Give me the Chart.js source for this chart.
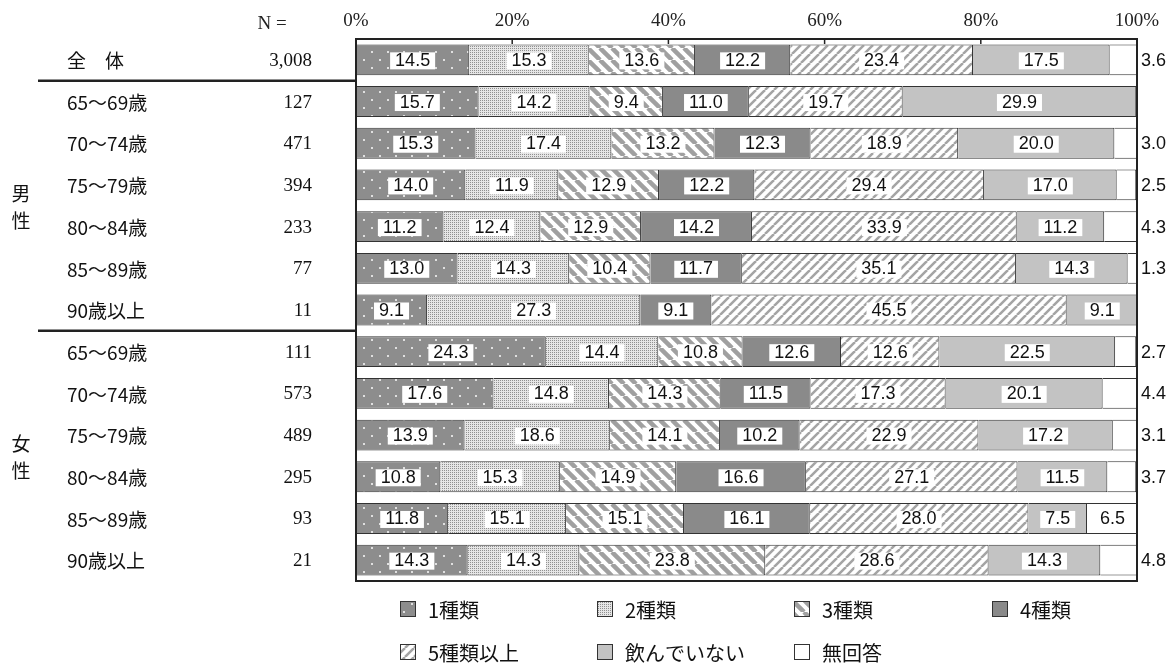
<!DOCTYPE html>
<html>
<head>
<meta charset="utf-8">
<script src="https://cdn.jsdelivr.net/npm/chart.js@4.4.1/dist/chart.umd.min.js"></script>
<style>
    body { margin: 0; background: #fff; }
    .chart_container { width: 1174px; height: 664px; }
</style>
</head>
<body>
<div class="chart_container"><canvas id="drug_chart"></canvas></div>
<script>
let categories = ['全　体', '65〜69歳', '70〜74歳', '75〜79歳', '80〜84歳', '85〜89歳', '90歳以上',
                  '65〜69歳', '70〜74歳', '75〜79歳', '80〜84歳', '85〜89歳', '90歳以上'];
let n_values = ['3,008', '127', '471', '394', '233', '77', '11', '111', '573', '489', '295', '93', '21'];

let group_names = ['男性', '女性'];
let group_first = [1, 7];
let group_last = [6, 12];

let series_names = ['1種類', '2種類', '3種類', '4種類', '5種類以上', '飲んでいない', '無回答'];
let kind_1     = [14.5, 15.7, 15.3, 14.0, 11.2, 13.0,  9.1, 24.3, 17.6, 13.9, 10.8, 11.8, 14.3];
let kind_2     = [15.3, 14.2, 17.4, 11.9, 12.4, 14.3, 27.3, 14.4, 14.8, 18.6, 15.3, 15.1, 14.3];
let kind_3     = [13.6,  9.4, 13.2, 12.9, 12.9, 10.4,    0, 10.8, 14.3, 14.1, 14.9, 15.1, 23.8];
let kind_4     = [12.2, 11.0, 12.3, 12.2, 14.2, 11.7,  9.1, 12.6, 11.5, 10.2, 16.6, 16.1,    0];
let kind_5plus = [23.4, 19.7, 18.9, 29.4, 33.9, 35.1, 45.5, 12.6, 17.3, 22.9, 27.1, 28.0, 28.6];
let not_taking = [17.5, 29.9, 20.0, 17.0, 11.2, 14.3,  9.1, 22.5, 20.1, 17.2, 11.5,  7.5, 14.3];
let no_answer  = [ 3.6,    0,  3.0,  2.5,  4.3,  1.3,    0,  2.7,  4.4,  3.1,  3.7,  6.5,  4.8];
let series_values = [kind_1, kind_2, kind_3, kind_4, kind_5plus, not_taking, no_answer];

let tick_values = [0, 20, 40, 60, 80, 100];

let label_font = '18px "Liberation Sans", Arial, sans-serif';
let jp_font = '19px "Noto Sans CJK JP", sans-serif';
let legend_font = '20px "Noto Sans CJK JP", sans-serif';
let serif_font = '19px "Liberation Serif", serif';

function make_pattern(w, h, draw) {
    let c = document.createElement('canvas');
    c.width = w;
    c.height = h;
    let x = c.getContext('2d');
    draw(x);
    return x.createPattern(c, 'repeat');
}

let dots_fill = make_pattern(16, 16, (x) => {
    x.fillStyle = '#8d8d8d';
    x.fillRect(0, 0, 16, 16);
    x.fillStyle = '#e0e0e0';
    x.fillRect(3, 3, 2, 2);
    x.fillRect(11, 11, 2, 2);
});

let stipple_fill = make_pattern(2, 2, (x) => {
    x.fillStyle = '#e6e6e6';
    x.fillRect(0, 0, 2, 2);
    x.fillStyle = '#909090';
    x.fillRect(0, 0, 1, 1);
});

let back_stripe_fill = make_pattern(12, 12, (x) => {
    x.fillStyle = '#fff';
    x.fillRect(0, 0, 12, 12);
    x.strokeStyle = '#a0a0a0';
    x.lineWidth = 4.5;
    [-12, 0, 12].forEach((o) => {
        x.beginPath();
        x.moveTo(o, 0);
        x.lineTo(o + 12, 12);
        x.stroke();
    });
});

let fwd_stripe_fill = make_pattern(9, 9, (x) => {
    x.fillStyle = '#fff';
    x.fillRect(0, 0, 9, 9);
    x.strokeStyle = '#a4a4a4';
    x.lineWidth = 2.5;
    [-9, 0, 9].forEach((o) => {
        x.beginPath();
        x.moveTo(o, 9);
        x.lineTo(o + 9, 0);
        x.stroke();
    });
});

let fills = [dots_fill, stipple_fill, back_stripe_fill, '#8a8a8a', fwd_stripe_fill, '#c3c3c3', '#ffffff'];

function row_y(scale, i) {
    return scale.getPixelForValue(i);
}

let frame_plugin = {
    id: 'frame_plugin',
    afterDatasetsDraw(chart) {
        let ctx = chart.ctx;
        let area = chart.chartArea;
        let xs = chart.scales.x;
        let ys = chart.scales.y;
        ctx.save();

        // plot frame and top ticks
        ctx.strokeStyle = '#222';
        ctx.lineWidth = 2;
        ctx.strokeRect(area.left, area.top, area.right - area.left, area.bottom - area.top);
        ctx.fillStyle = '#222';
        ctx.font = serif_font;
        ctx.textAlign = 'center';
        ctx.textBaseline = 'middle';
        tick_values.forEach((v) => {
            let x = xs.getPixelForValue(v);
            ctx.beginPath();
            ctx.moveTo(x, area.top);
            ctx.lineTo(x, area.top + 5);
            ctx.lineWidth = 1.5;
            ctx.stroke();
            ctx.fillText(v + '%', x, 21);
        });
        ctx.fillText('N =', 272, 24);

        // separators between 全体 / 男性 / 女性
        ctx.lineWidth = 2.5;
        [0, 6].forEach((i) => {
            let y = (row_y(ys, i) + row_y(ys, i + 1)) / 2;
            ctx.beginPath();
            ctx.moveTo(38, y);
            ctx.lineTo(area.left, y);
            ctx.stroke();
        });

        // left side labels
        categories.forEach((name, i) => {
            let y = row_y(ys, i) + 1;
            ctx.font = jp_font;
            ctx.textAlign = 'left';
            ctx.fillStyle = '#111';
            ctx.fillText(name, 67, y);
            ctx.font = serif_font;
            ctx.textAlign = 'right';
            ctx.fillText(n_values[i], 312, y);
        });
        ctx.font = jp_font;
        ctx.textAlign = 'center';
        group_names.forEach((g, k) => {
            let mid = (row_y(ys, group_first[k]) + row_y(ys, group_last[k])) / 2;
            ctx.fillText(g[0], 21, mid - 12);
            ctx.fillText(g[1], 21, mid + 15);
        });

        // value labels
        ctx.font = label_font;
        ctx.textAlign = 'center';
        series_values.forEach((vals, i) => {
            let meta = chart.getDatasetMeta(i);
            meta.data.forEach((bar, j) => {
                let v = vals[j];
                if (!v) return;
                let txt = v.toFixed(1);
                let cx = (bar.x + bar.base) / 2;
                let cy = bar.y + 1;
                if (i == series_values.length - 1) {
                    ctx.fillStyle = '#111';
                    if (v >= 5) {
                        ctx.textAlign = 'center';
                        ctx.fillText(txt, cx, cy);
                    } else {
                        ctx.textAlign = 'left';
                        ctx.fillText(txt, area.right + 4, cy);
                    }
                    ctx.textAlign = 'center';
                    return;
                }
                let w = ctx.measureText(txt).width + 10;
                ctx.fillStyle = '#fff';
                ctx.fillRect(cx - w / 2, cy - 8.5, w, 17);
                ctx.fillStyle = '#111';
                ctx.fillText(txt, cx, cy);
            });
        });

        // legend, 4 per row
        let leg_x = [400, 597, 794, 992];
        let leg_y = [609, 652];
        ctx.font = legend_font;
        ctx.textAlign = 'left';
        chart.data.datasets.forEach((ds, i) => {
            let x = leg_x[i % 4];
            let y = leg_y[Math.floor(i / 4)];
            ctx.fillStyle = ds.backgroundColor;
            ctx.fillRect(x, y - 8, 16, 16);
            ctx.strokeStyle = '#333';
            ctx.lineWidth = 1;
            ctx.strokeRect(x + 0.5, y - 7.5, 15, 15);
            ctx.fillStyle = '#111';
            ctx.fillText(ds.label, x + 28, y + 1);
        });
        ctx.restore();
    }
};

let datasets = series_names.map((name, i) => ({
    label: name,
    data: series_values[i],
    backgroundColor: fills[i],
    borderColor: '#333',
    borderWidth: 1,
    categoryPercentage: 1,
    barPercentage: 0.74
}));

let ctx = document.getElementById('drug_chart').getContext('2d');
let drug_chart = new Chart(ctx, {
    type: 'bar',
    data: { labels: categories, datasets: datasets },
    options: {
        indexAxis: 'y',
        responsive: true,
        maintainAspectRatio: false,
        animation: false,
        layout: { padding: { left: 356, right: 37, top: 39, bottom: 83 } },
        plugins: {
            legend: { display: false },
            tooltip: { enabled: false }
        },
        scales: {
            x: { stacked: true, min: 0, max: 100, display: false },
            y: { stacked: true, display: false }
        }
    },
    plugins: [frame_plugin]
});
</script>
</body>
</html>
